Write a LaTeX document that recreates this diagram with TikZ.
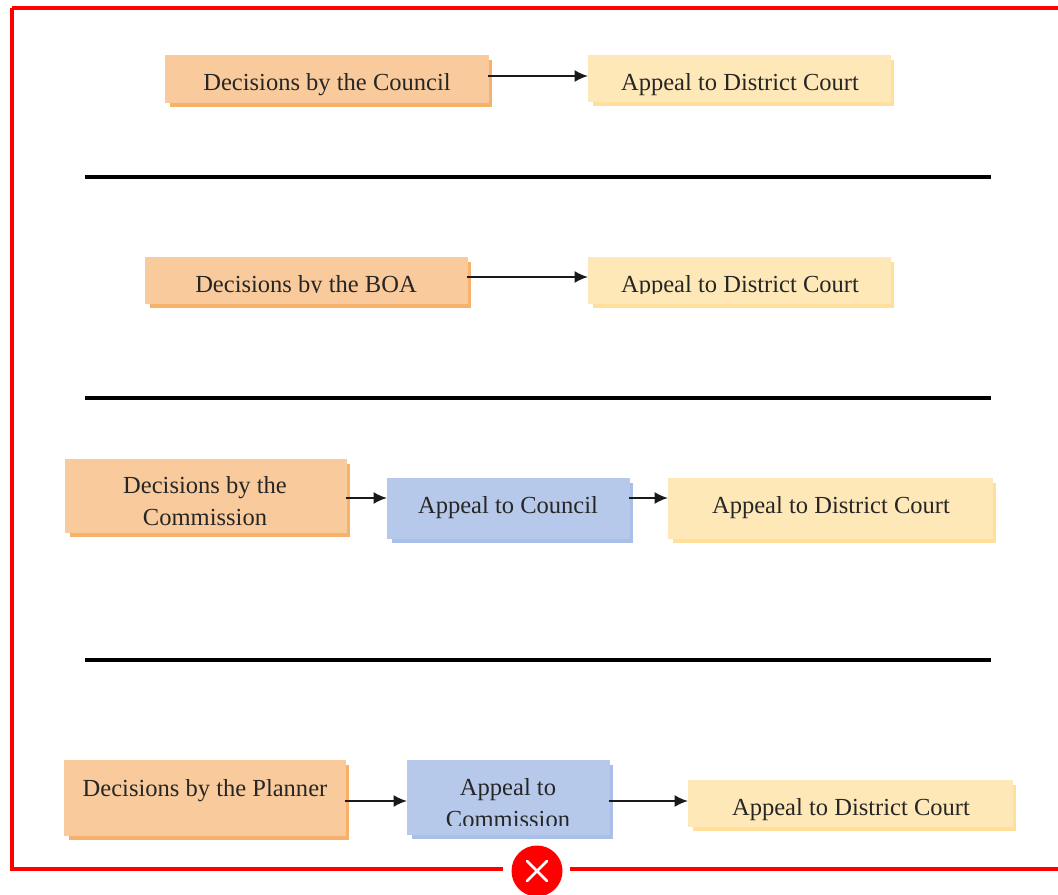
\documentclass[tikz,border=0pt]{standalone}
\usepackage{fontspec}
\setmainfont{Liberation Serif}
\usetikzlibrary{arrows.meta}
\definecolor{orF}{HTML}{F9CB9C}
\definecolor{orS}{HTML}{F6B26B}
\definecolor{yeF}{HTML}{FFE8B8}
\definecolor{yeS}{HTML}{FFE09A}
\definecolor{blF}{HTML}{B7C9EA}
\definecolor{blS}{HTML}{A9BFE8}
\newcommand{\shbox}[7]{% name,x0,y0,x1,y1,fill,shadow
 \fill[#7] (#2+5,#3+5) rectangle (#4+3,#5+4);
 \node[boxnode,fill=#6,minimum width={(#4-#2)*0.75pt},minimum height={(#5-#3)*0.75pt}] (#1) at ({(#2+#4)/2},{(#3+#5)/2}) {};
}
\tikzset{
 boxnode/.style={rectangle,draw=none,inner sep=0pt,outer sep=0pt},
 lbl/.style={font=\fontsize{18.4pt}{23.5pt}\selectfont,text=black!85,inner sep=0pt,align=center},
 arr/.style={draw=black!90,line width=1.6pt,shorten <=-1pt,-{Latex[length=10pt,width=9pt]}},
 rule/.style={draw=black,line width=3pt}
}
\begin{document}
\begin{tikzpicture}[x=0.75pt,y=-0.75pt]
\useasboundingbox (0,0) rectangle (1058,895);
\fill[white] (0,0) rectangle (1058,895);
% frame
\draw[red,line width=3.4pt] (12,8) -- (1058,8);
\draw[red,line width=3.4pt] (12,8) -- (12,869) -- (1058,869);
% row 1
\shbox{a1}{165}{55}{489}{103}{orF}{orS}
\shbox{b1}{588}{55}{891}{102}{yeF}{yeS}
\node[lbl] (ta1) at (327,85) {Decisions by the Council};
\node[lbl] (tb1) at (740,85) {Appeal to District Court};
\draw[arr] (a1.east |- 0,76) -- (b1.west |- 0,76);
\draw[rule] (85,177) -- (991,177);
% row 2
\shbox{a2}{145}{257}{468}{304}{orF}{orS}
\shbox{b2}{588}{257}{891}{304}{yeF}{yeS}
\begin{scope}
\clip (145,257) rectangle (468,293);
\node[lbl] (ta2) at (306,287) {Decisions by the BOA};
\end{scope}
\begin{scope}
\clip (588,257) rectangle (891,294);
\node[lbl] (tb2) at (740,287) {Appeal to District Court};
\end{scope}
\draw[arr] (a2.east |- 0,277) -- (b2.west |- 0,277);
\draw[rule] (85,398) -- (991,398);
% row 3
\shbox{a3}{65}{459}{347}{533}{orF}{orS}
\shbox{b3}{387}{478}{630}{539}{blF}{blS}
\shbox{c3}{668}{478}{993}{539}{yeF}{yeS}
\node[lbl] (ta3) at (205,501) {Decisions by the\\Commission};
\node[lbl] (tb3) at (508,508) {Appeal to Council};
\node[lbl] (tc3) at (831,508) {Appeal to District Court};
\draw[arr] (a3.east |- 0,498) -- (b3.west |- 0,498);
\draw[arr] (b3.east |- 0,498) -- (c3.west |- 0,498);
\draw[rule] (85,660) -- (991,660);
% row 4
\shbox{a4}{64}{760}{346}{836}{orF}{orS}
\shbox{b4}{407}{760}{610}{835}{blF}{blS}
\shbox{c4}{688}{780}{1013}{827}{yeF}{yeS}
\node[lbl] (ta4) at (205,791) {Decisions by the Planner};
\begin{scope}
\clip (407,760) rectangle (608,825);
\node[lbl] (tb4) at (508,803) {Appeal to\\Commission};
\end{scope}
\node[lbl] (tc4) at (851,810) {Appeal to District Court};
\draw[arr] (a4.east |- 0,801) -- (b4.west |- 0,801);
\draw[arr] (b4.east |- 0,801) -- (c4.west |- 0,801);
% close icon
\fill[white] (503,862) rectangle (570,876);
\fill[red] (537,871) circle[radius=25.5];
\draw[white,line width=2pt,line cap=round] (527,861) -- (547,881) (547,861) -- (527,881);
\end{tikzpicture}
\end{document}
